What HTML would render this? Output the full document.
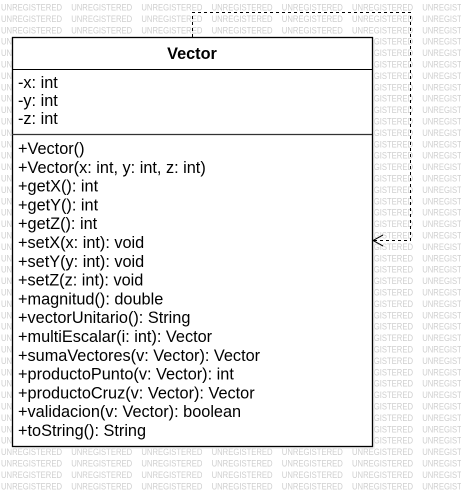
<!DOCTYPE html>
<html><head><meta charset="utf-8"><style>
html,body{margin:0;padding:0;background:#fff;width:461px;height:495px;overflow:hidden}
svg{display:block}
.w{font-family:"Liberation Sans",sans-serif;font-size:9px;fill:#cfcfcf}
.t{font-family:"Liberation Sans",sans-serif;font-size:16.3px;fill:#000}
</style></head><body>
<svg width="461" height="495" xmlns="http://www.w3.org/2000/svg">
<g id="wm"></g>
<rect x="15" y="40" width="360" height="409" fill="#e6e6e6" opacity="0.5"/>
<rect x="12.5" y="37.5" width="360" height="409" fill="#fff" stroke="#000" stroke-width="1.3"/>
<line x1="12" y1="69.5" x2="372" y2="69.5" stroke="#000"/>
<line x1="12" y1="134.5" x2="372" y2="134.5" stroke="#333" stroke-width="1.3"/>
<text x="192" y="59" text-anchor="middle" class="t" style="font-weight:bold">Vector</text>
<g class="t">
<text x="18" y="88">-x: int</text>
<text x="18" y="106">-y: int</text>
<text x="18" y="124">-z: int</text>
</g>
<g class="t" id="m"></g>
<path d="M192.5 37 V12.5 H410.5 V240.5 H374" fill="none" stroke="#000" stroke-dasharray="3,3"/>
<path d="M383 235 L373 240.5 L383 246" fill="none" stroke="#000"/>
</svg>
<script>
var wm=document.getElementById('wm'),s='';
for(var r=0;r<43;r++){var y=10.5+r*11.4;for(var c=0;c<7;c++){s+='<text class="w" x="'+(1+c*70.2)+'" y="'+y.toFixed(1)+'" textLength="61" lengthAdjust="spacingAndGlyphs">UNREGISTERED</text>';}}
wm.innerHTML=s;
var ms=["+Vector()","+Vector(x: int, y: int, z: int)","+getX(): int","+getY(): int","+getZ(): int","+setX(x: int): void","+setY(y: int): void","+setZ(z: int): void","+magnitud(): double","+vectorUnitario(): String","+multiEscalar(i: int): Vector","+sumaVectores(v: Vector): Vector","+productoPunto(v: Vector): int","+productoCruz(v: Vector): Vector","+validacion(v: Vector): boolean","+toString(): String"];
var h='';for(var i=0;i<ms.length;i++){h+='<text x="18" y="'+(154+i*18.8).toFixed(1)+'">'+ms[i]+'</text>';}
document.getElementById('m').innerHTML=h;
</script>
</body></html>
